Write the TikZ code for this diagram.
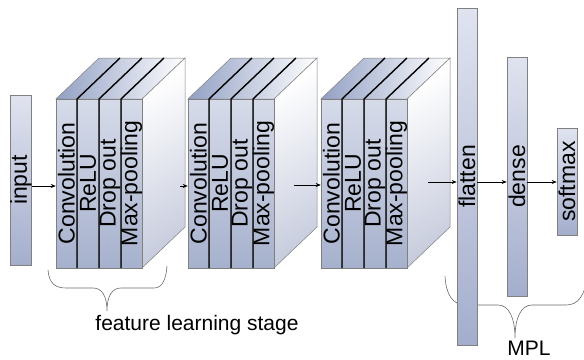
\documentclass[tikz,border=0pt]{standalone}
\usepackage{fontspec}
\setmainfont{Liberation Sans}
\usepackage{graphicx}
\usetikzlibrary{arrows.meta}
\definecolor{slablight}{RGB}{214,219,233}
\definecolor{slabdark}{RGB}{166,177,205}
\definecolor{topblue}{RGB}{146,160,196}
\definecolor{sidegray}{RGB}{200,205,222}
\definecolor{veclight}{RGB}{224,227,239}
\definecolor{vecdark}{RGB}{164,174,204}
\definecolor{edgegray}{RGB}{128,128,128}
\definecolor{bracegray}{RGB}{105,105,105}
\tikzset{layer/.style={draw=edgegray,line width=0.5pt,top color=slablight,bottom color=slabdark,
    minimum height=169pt,inner sep=0pt,font=\fontsize{23}{25}\selectfont},
  topface/.style={draw=edgegray,line width=0.5pt,left color=topblue,right color=white},
  sideface/.style={draw=edgegray,line width=0.5pt,top color=white,bottom color=sidegray,shading angle=30},
  divider/.style={draw=black,line width=1.4pt,line join=round},
  vecbox/.style={draw=edgegray,line width=0.6pt,top color=veclight,bottom color=vecdark,
    minimum width=20pt,inner sep=0pt,font=\fontsize{23}{25}\selectfont},
  flow/.style={-{Stealth[length=5pt,width=4pt]},line width=0.6pt},
  brace/.style={draw=bracegray,line width=0.6pt},
  caption/.style={inner sep=1pt,font=\fontsize{21}{24}\selectfont}}

\begin{document}
\begin{tikzpicture}[x=1pt,y=-1pt]
  \useasboundingbox (0,0) rectangle (584,359);
  \draw[brace] (48,270) .. controls (49,283) and (55,288) .. (66,288) -- (93,288)
    .. controls (102,288) and (107,296) .. (107,311) .. controls (107,296) and (112,288) .. (121,288)
    -- (154,288) .. controls (162,288) and (166,280) .. (167,266);
  \draw[brace] (445,276) .. controls (446,294) and (452,305) .. (466,305) -- (498,305)
    .. controls (509,305) and (515,318) .. (515,338) .. controls (515,318) and (521,305) .. (532,305)
    -- (566,305) .. controls (578,305) and (585,296) .. (587,276);
  \node[vecbox,minimum height=170pt] (input) at (21,180) {\rotatebox{90}{input}};
  \begin{scope}[shift={(56,0)}]
    \path[topface] (0,99) -- (43,58) -- (129,58) -- (86,99) -- cycle;
    \path[sideface] (86,99) -- (129,58) -- (129,227) -- (86,268) -- cycle;
    \node[layer,minimum width=21pt] (conv1) at (10.5,183.5) {\rotatebox{90}{Convolution}};
    \node[layer,minimum width=22pt] (relu1) at (32,183.5) {\rotatebox{90}{ReLU}};
    \node[layer,minimum width=22pt] (drop1) at (54,183.5) {\rotatebox{90}{Drop out}};
    \node[layer,minimum width=21pt] (pool1) at (75.5,183.5) {\rotatebox{90}{Max-pooling}};
    \draw[divider] (21,268) -- (21,99) -- (64,58);
    \draw[divider] (43,268) -- (43,99) -- (86,58);
    \draw[divider] (65,268) -- (65,99) -- (108,58);
  \end{scope}
  \begin{scope}[shift={(188,0)}]
    \path[topface] (0,99) -- (43,58) -- (129,58) -- (86,99) -- cycle;
    \path[sideface] (86,99) -- (129,58) -- (129,227) -- (86,268) -- cycle;
    \node[layer,minimum width=21pt] (conv2) at (10.5,183.5) {\rotatebox{90}{Convolution}};
    \node[layer,minimum width=22pt] (relu2) at (32,183.5) {\rotatebox{90}{ReLU}};
    \node[layer,minimum width=22pt] (drop2) at (54,183.5) {\rotatebox{90}{Drop out}};
    \node[layer,minimum width=21pt] (pool2) at (75.5,183.5) {\rotatebox{90}{Max-pooling}};
    \draw[divider] (21,268) -- (21,99) -- (64,58);
    \draw[divider] (43,268) -- (43,99) -- (86,58);
    \draw[divider] (65,268) -- (65,99) -- (108,58);
  \end{scope}
  \begin{scope}[shift={(321,0)}]
    \path[topface] (0,99) -- (43,58) -- (129,58) -- (86,99) -- cycle;
    \path[sideface] (86,99) -- (129,58) -- (129,227) -- (86,268) -- cycle;
    \node[layer,minimum width=21pt] (conv3) at (10.5,183.5) {\rotatebox{90}{Convolution}};
    \node[layer,minimum width=22pt] (relu3) at (32,183.5) {\rotatebox{90}{ReLU}};
    \node[layer,minimum width=22pt] (drop3) at (54,183.5) {\rotatebox{90}{Drop out}};
    \node[layer,minimum width=21pt] (pool3) at (75.5,183.5) {\rotatebox{90}{Max-pooling}};
    \draw[divider] (21,268) -- (21,99) -- (64,58);
    \draw[divider] (43,268) -- (43,99) -- (86,58);
    \draw[divider] (65,268) -- (65,99) -- (108,58);
  \end{scope}
  \node[vecbox,minimum height=337pt] (flatten) at (467,176.5) {\rotatebox{90}{flatten}};
  \node[vecbox,minimum height=239pt] (dense) at (517,176.5) {\rotatebox{90}{dense}};
  \node[vecbox,minimum height=107pt] (softmax) at (567,181.5) {\rotatebox{90}{softmax}};
  \coordinate (out1) at (180,186);
  \coordinate (out2) at (294,185);
  \coordinate (out3) at (428,182);
  \draw[flow] (input.east |- 0,186) -- (conv1.west |- 0,186);
  \draw[flow] (out1) -- (conv2.west |- out1);
  \draw[flow] (out2) -- (conv3.west |- out2);
  \draw[flow] (out3) -- (flatten.west |- out3);
  \draw[flow] (flatten.east |- 0,182) -- (dense.west |- 0,182);
  \draw[flow] (dense.east |- 0,182) -- (softmax.west |- 0,182);
  \node[caption] (stage) at (197,325) {feature learning stage};
  \node[caption] (mpl) at (529,348) {MPL};
\end{tikzpicture}
\end{document}
